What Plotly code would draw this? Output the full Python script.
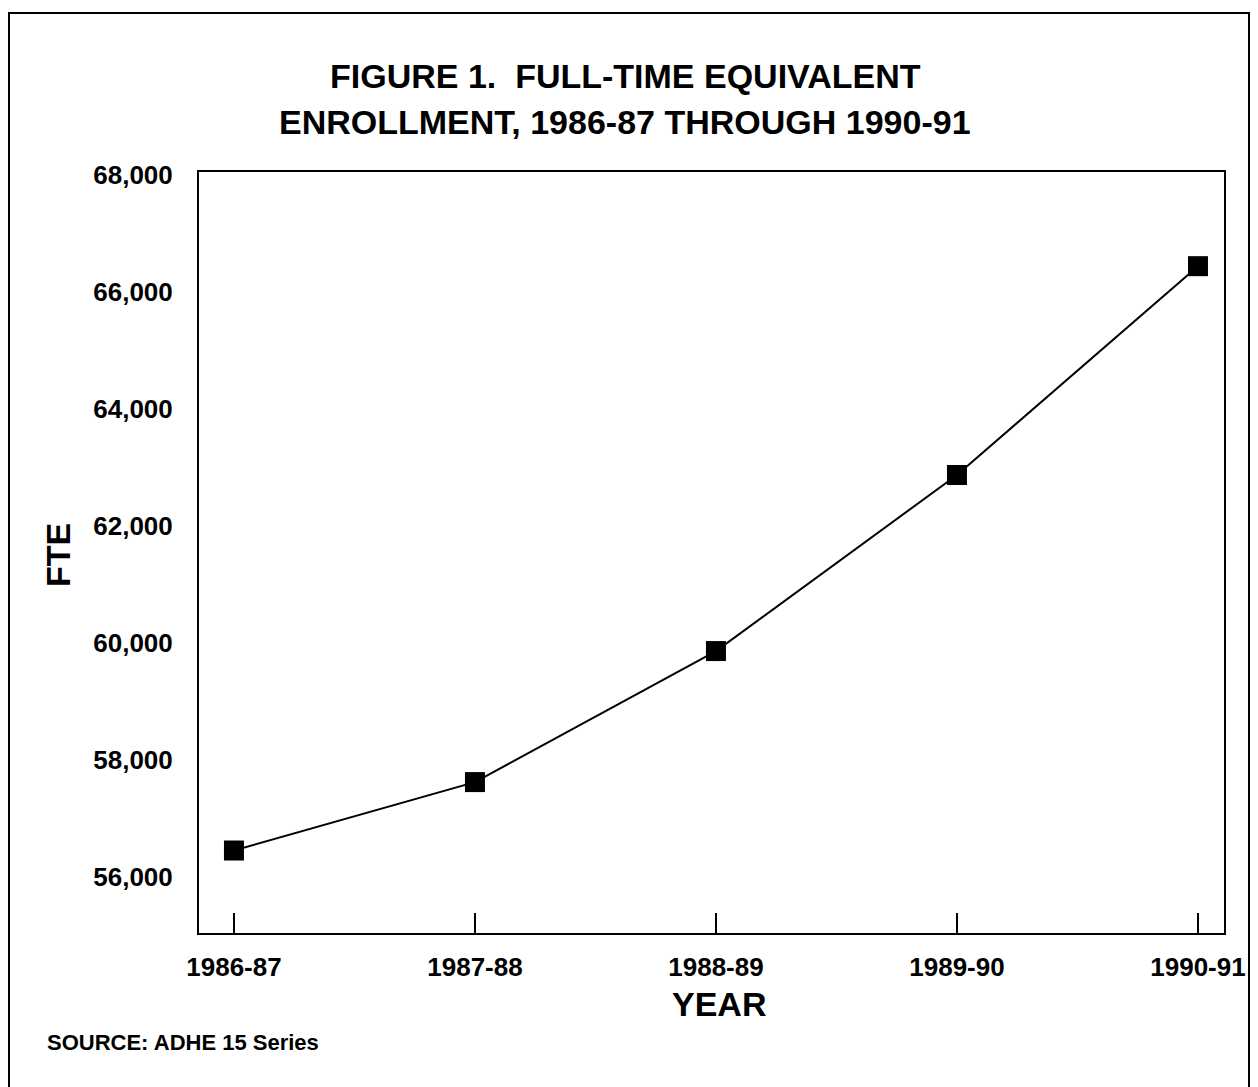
import plotly.graph_objects as go

years = ["1986-87", "1987-88", "1988-89", "1989-90", "1990-91"]
fte = [56450, 57620, 59860, 62870, 66440]
y_ticks = [56000, 58000, 60000, 62000, 64000, 66000, 68000]

FONT = "Liberation Sans, Arial, Helvetica, sans-serif"

OFF = 8  # browser body margin
W, H = 1258 - OFF, 1087 - OFF
L, R, T, B = 199 - OFF, 1224 - OFF, 172 - OFF, 933 - OFF  # plot area in pixels


def px(x):
    return (x - OFF - L) / (R - L)


def py(y):
    return (B - (y - OFF)) / (B - T)


fig = go.Figure()
fig.add_trace(go.Scatter(
    x=list(range(len(years))), y=fte,
    mode="lines+markers",
    line=dict(color="black", width=2),
    marker=dict(symbol="square", size=20, color="black"),
    showlegend=False,
))

fig.update_layout(
    width=W, height=H,
    margin=dict(l=L, r=W - R, t=T, b=H - B, pad=0),
    paper_bgcolor="white", plot_bgcolor="white",
    font=dict(family=FONT, color="black"),
    xaxis=dict(
        range=[-0.145, 4.108],
        tickmode="array", tickvals=list(range(len(years))), ticktext=years,
        ticks="inside", ticklen=20, tickwidth=1.5, tickcolor="black",
        showline=True, linecolor="black", linewidth=2, mirror=True,
        showgrid=False, zeroline=False,
        tickfont=dict(size=26, weight="bold"),
        ticklabelstandoff=10,
    ),
    yaxis=dict(
        range=[55040, 68050],
        tickmode="array", tickvals=y_ticks, tickformat=",",
        ticks="",
        showline=True, linecolor="black", linewidth=2, mirror=True,
        showgrid=False, zeroline=False,
        tickfont=dict(size=26, weight="bold"),
        ticklabelstandoff=19,
    ),
)

annos = [
    dict(text="FIGURE 1.&nbsp;&nbsp;FULL-TIME EQUIVALENT", x=px(625), y=py(76),
         size=34, xanchor="center"),
    dict(text="ENROLLMENT, 1986-87 THROUGH 1990-91", x=px(625), y=py(122),
         size=34, xanchor="center"),
    dict(text="YEAR", x=px(719), y=py(1004), size=34, xanchor="center"),
    dict(text="SOURCE: ADHE 15 Series", x=px(45), y=py(1042), size=22, xanchor="left"),
]
for a in annos:
    fig.add_annotation(
        text=a["text"], x=a["x"], y=a["y"], xref="paper", yref="paper",
        xanchor=a["xanchor"], yanchor="middle", showarrow=False,
        font=dict(family=FONT, size=a["size"], color="black", weight="bold"),
    )

fig.add_annotation(
    text="FTE", x=px(58), y=py(555), xref="paper", yref="paper",
    xanchor="center", yanchor="middle", showarrow=False, textangle=-90,
    font=dict(family=FONT, size=34, color="black", weight="bold"),
)

# outer page frame
fig.add_shape(
    type="rect", xref="paper", yref="paper",
    x0=px(9), x1=px(1249), y0=py(1100), y1=py(13),
    line=dict(color="black", width=2), fillcolor="rgba(0,0,0,0)", layer="below",
)

fig.write_html("out.html")
